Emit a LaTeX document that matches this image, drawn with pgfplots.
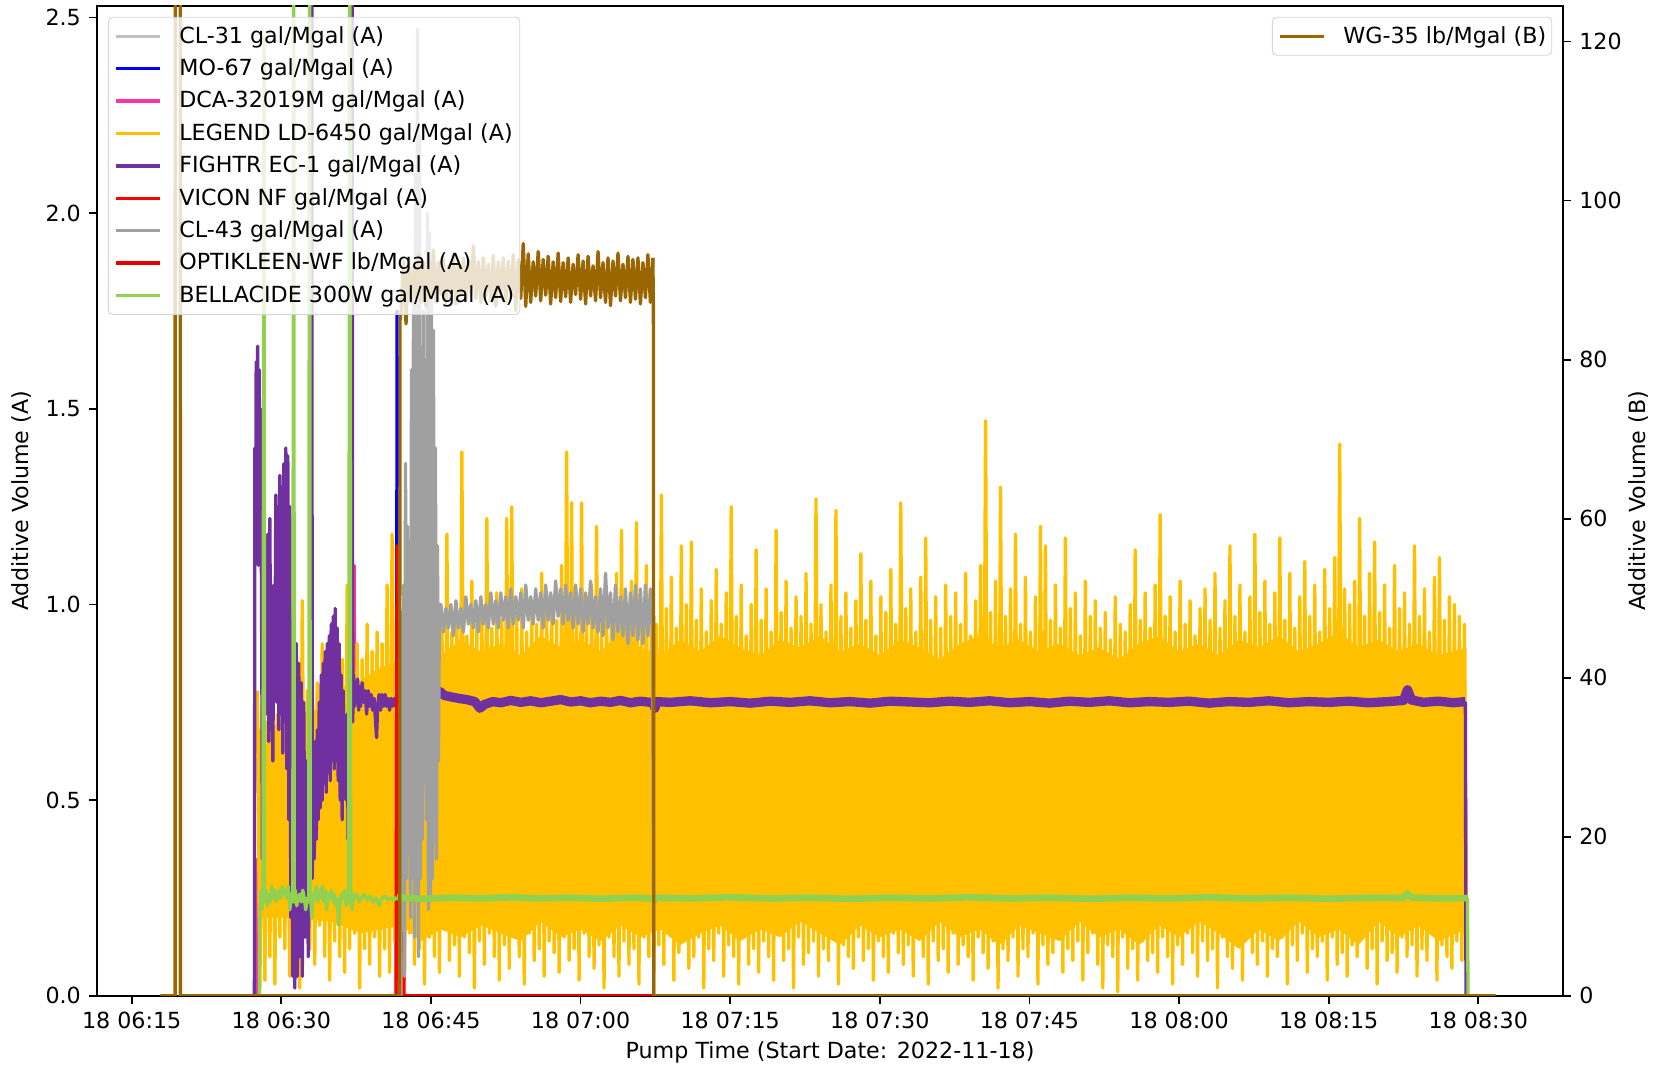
\documentclass[border=0pt]{standalone}
\usepackage{fontspec}
\setmainfont{DejaVu Sans}
\usepackage{pgfplots}
\usepackage{pgfplotstable}
\pgfplotsset{compat=1.18}
\usetikzlibrary{calc}

\definecolor{silverc}{HTML}{C0C0C0}
\definecolor{moblue}{HTML}{0000FF}
\definecolor{dcapink}{HTML}{FF3399}
\definecolor{ldyellow}{HTML}{FFC000}
\definecolor{ecpurple}{HTML}{7030A0}
\definecolor{nfred}{HTML}{FF0000}
\definecolor{clgray}{HTML}{A0A0A0}
\definecolor{owfred}{HTML}{E60000}
\definecolor{bgreen}{HTML}{92D050}
\definecolor{wgbrown}{HTML}{996600}

\pgfplotsset{
  base/.style={
    scale only axis, width=660.6pt, height=446pt,
    xmin=11.5, xmax=158.52,
    tick align=outside, major tick length=3.5pt,
    every tick/.style={black, line width=0.8pt},
    axis line style={line width=0.8pt},
    /pgf/number format/assume math mode=true,
    legend image code/.code={\draw[##1] (0pt,0pt) -- (20pt,0pt);},
    legend cell align=left,
    legend style={draw=black!17, fill=white, fill opacity=0.8, text opacity=1,
      rounded corners=2pt, inner xsep=2.5pt, inner ysep=4pt,
      row sep=5.5pt, column sep=8pt, nodes={inner sep=0pt}},
  },
  ln/.style={line width=1.5pt, line join=round},
}

% LEGEND LD-6450, one reading every 0.25 min from 27.6 min (06:27.6), high/low alternating
\pgfplotstableread[row sep=\\,header=false]{
0.78\\0.02\\0.75\\0.04\\0.70\\0.10\\0.78\\0.03\\0.72\\0.15\\0.80\\0.12\\0.74\\0.05\\0.99\\0.10\\0.76\\0.02\\1.01\\0.15\\
0.78\\0.12\\0.85\\0.08\\0.80\\0.18\\0.90\\0.10\\0.84\\0.04\\0.88\\0.14\\0.92\\0.10\\0.86\\0.06\\1.05\\0.12\\0.82\\0.16\\
0.90\\0.02\\0.86\\0.12\\0.95\\0.08\\0.88\\0.15\\0.93\\0.05\\0.90\\0.12\\1.05\\0.06\\1.18\\0.14\\0.95\\0.10\\0.92\\0.04\\
0.97\\0.16\\0.90\\0.08\\1.02\\0.12\\0.94\\0.03\\0.99\\0.15\\0.91\\0.10\\1.04\\0.06\\0.95\\0.17\\1.18\\0.09\\0.93\\0.13\\
0.98\\0.05\\1.39\\0.15\\0.92\\0.11\\1.06\\0.02\\0.95\\0.14\\1.00\\0.08\\1.22\\0.16\\0.94\\0.10\\1.03\\0.04\\0.96\\0.13\\
1.22\\0.07\\1.25\\0.15\\0.97\\0.10\\1.04\\0.03\\0.93\\0.16\\1.01\\0.09\\0.95\\0.12\\1.08\\0.05\\0.98\\0.14\\1.02\\0.11\\
0.96\\0.06\\1.10\\0.15\\1.39\\0.09\\1.26\\0.12\\0.99\\0.04\\1.26\\0.16\\0.97\\0.10\\1.05\\0.07\\1.20\\0.13\\0.95\\0.02\\
1.03\\0.15\\0.97\\0.10\\1.08\\0.05\\1.19\\0.14\\0.96\\0.08\\1.06\\0.12\\1.21\\0.03\\0.98\\0.15\\1.10\\0.10\\1.02\\0.06\\
0.95\\0.13\\1.28\\0.08\\0.99\\0.16\\1.07\\0.04\\0.94\\0.11\\1.15\\0.14\\1.00\\0.07\\1.16\\0.10\\0.96\\0.15\\1.04\\0.02\\
0.93\\0.12\\1.01\\0.09\\1.09\\0.16\\0.95\\0.05\\1.03\\0.13\\1.25\\0.10\\0.97\\0.03\\1.05\\0.15\\0.92\\0.08\\1.00\\0.12\\
1.14\\0.06\\0.96\\0.14\\1.04\\0.10\\0.93\\0.04\\1.19\\0.16\\0.98\\0.09\\1.06\\0.12\\0.94\\0.02\\1.02\\0.15\\0.97\\0.08\\
1.08\\0.11\\0.95\\0.14\\1.27\\0.05\\1.00\\0.12\\0.93\\0.09\\1.05\\0.16\\1.24\\0.03\\0.97\\0.13\\1.03\\0.10\\0.94\\0.07\\
1.01\\0.15\\1.13\\0.09\\0.96\\0.12\\1.06\\0.04\\0.92\\0.14\\1.02\\0.10\\0.98\\0.06\\1.09\\0.16\\0.95\\0.11\\1.26\\0.08\\
0.99\\0.13\\1.04\\0.05\\0.93\\0.15\\1.07\\0.10\\1.17\\0.03\\0.96\\0.14\\1.02\\0.09\\0.94\\0.12\\1.05\\0.06\\0.97\\0.16\\
1.03\\0.08\\0.95\\0.13\\1.08\\0.10\\0.92\\0.04\\1.01\\0.15\\1.10\\0.11\\1.47\\0.07\\0.98\\0.14\\1.06\\0.02\\1.30\\0.12\\
0.97\\0.09\\1.04\\0.15\\1.18\\0.05\\0.95\\0.12\\1.07\\0.10\\0.93\\0.16\\1.02\\0.03\\1.20\\0.13\\1.15\\0.08\\0.96\\0.11\\
1.05\\0.15\\0.94\\0.06\\1.17\\0.12\\0.99\\0.09\\1.03\\0.14\\0.92\\0.04\\1.06\\0.11\\0.97\\0.16\\1.01\\0.08\\0.94\\0.02\\
0.98\\0.13\\0.91\\0.10\\1.02\\0.01\\0.95\\0.15\\0.93\\0.07\\1.00\\0.12\\1.14\\0.04\\0.96\\0.14\\1.03\\0.09\\0.94\\0.11\\
1.05\\0.06\\1.23\\0.15\\0.97\\0.10\\1.02\\0.03\\0.93\\0.13\\1.06\\0.08\\0.95\\0.16\\1.01\\0.11\\0.92\\0.05\\0.99\\0.14\\
1.04\\0.09\\0.96\\0.12\\1.08\\0.02\\0.94\\0.15\\1.01\\0.10\\1.15\\0.07\\0.97\\0.13\\1.05\\0.04\\0.93\\0.16\\1.02\\0.11\\
1.18\\0.08\\0.98\\0.14\\1.06\\0.05\\0.95\\0.12\\1.03\\0.10\\1.17\\0.15\\0.96\\0.03\\1.08\\0.13\\0.94\\0.09\\1.02\\0.16\\
1.11\\0.06\\0.97\\0.12\\1.05\\0.10\\0.93\\0.14\\1.09\\0.04\\0.99\\0.15\\1.12\\0.08\\1.41\\0.11\\1.04\\0.05\\1.00\\0.13\\
1.06\\0.10\\1.22\\0.16\\0.97\\0.07\\1.08\\0.12\\1.16\\0.03\\0.98\\0.14\\1.05\\0.09\\0.94\\0.11\\1.10\\0.06\\0.99\\0.15\\
1.03\\0.10\\0.95\\0.13\\1.15\\0.05\\0.97\\0.12\\1.04\\0.09\\0.93\\0.16\\1.07\\0.04\\1.12\\0.13\\0.96\\0.10\\1.02\\0.07\\
1.00\\0.14\\0.97\\0.09\\0.95\\0.12\\
}\yellowtab

% WG-35 plateau, one reading every 0.25 min from 42.0 min (right axis units)
\pgfplotstableread[row sep=\\,header=false]{
86.0\\92.3\\84.5\\92.8\\87.2\\91.8\\87.7\\93.3\\87.2\\92.3\\86.7\\92.8\\87.7\\93.8\\87.2\\92.3\\88.2\\92.8\\87.2\\91.8\\
87.7\\93.3\\87.0\\92.3\\88.0\\92.8\\87.4\\92.6\\88.2\\94.3\\87.7\\92.3\\87.2\\92.8\\88.0\\92.0\\87.5\\93.1\\86.7\\92.3\\
88.0\\92.8\\87.2\\92.4\\87.8\\93.2\\86.2\\92.6\\87.7\\94.6\\86.7\\93.3\\87.2\\92.3\\88.0\\93.6\\87.4\\92.6\\88.1\\93.0\\
87.0\\92.3\\87.8\\93.4\\87.3\\92.2\\87.9\\92.8\\87.2\\92.0\\88.2\\93.2\\87.6\\92.4\\87.0\\93.0\\88.0\\91.8\\87.4\\93.6\\
87.8\\92.2\\87.2\\92.8\\86.8\\92.4\\88.0\\93.4\\87.4\\92.0\\87.8\\93.0\\87.2\\92.6\\87.6\\92.8\\87.0\\92.2\\87.8\\93.2\\
87.2\\92.8\\
}\browntab

\begin{document}
\begin{tikzpicture}
\begin{axis}[base, name=ax,
  ymin=0, ymax=2.53,
  xtick pos=left, ytick pos=left,
  xtick={15,30,45,60,75,90,105,120,135,150},
  xticklabels={18 06:15,18 06:30,18 06:45,18 07:00,18 07:15,18 07:30,18 07:45,18 08:00,18 08:15,18 08:30},
  ytick={0,0.5,1,1.5,2,2.5},
  yticklabel style={/pgf/number format/fixed, /pgf/number format/fixed zerofill,
    /pgf/number format/precision=1, /tikz/inner sep=0pt, /tikz/xshift=-3.5pt},
  xticklabel style={inner sep=0pt, yshift=-3.5pt},
  xlabel={Pump Time (Start Date: 2022-11-18)},
  ylabel={Additive Volume (A)},
  every axis x label/.style={at={(axis description cs:0.5,-0.0567)}, anchor=center},
  every axis y label/.style={at={(axis description cs:-0.0512,0.5)}, anchor=center, rotate=90},
]
% CL-31
\addplot[silverc, ln] coordinates {(42.3,0) (67.3,0)};
% MO-67
\addplot[moblue, ln] coordinates {(41.55,0) (41.6,1.75) (41.66,0)};
% DCA-32019M
\addplot[dcapink, ln] coordinates {(27.5,0) (27.6,0.35) (27.75,0.3) (28.5,0.4) (37.2,0.4) (37.3,1.1) (37.4,0.4) (41.5,0.4) (41.6,0)};
% LEGEND LD-6450: dense core of the readings, then the readings themselves
\addplot[ldyellow, draw=none, fill=ldyellow] coordinates {
(27.62,0.20) (27.62,0.68) (30,0.70) (33,0.72) (35,0.78) (37.5,0.80) (40,0.84)
(42,0.86) (44,0.89) (46,0.87) (48,0.91) (50,0.88) (52,0.90) (54,0.87) (56,0.92) (58,0.89) (60,0.91)
(62,0.88) (64,0.93) (66,0.89) (68,0.87) (70,0.91) (72,0.88) (74,0.92) (76,0.89) (78,0.87) (80,0.91)
(82,0.89) (84,0.92) (86,0.88) (88,0.90) (90,0.87) (92,0.91) (94,0.89) (96,0.86) (98,0.90) (100,0.92)
(102,0.89) (104,0.91) (106,0.88) (108,0.90) (110,0.87) (112,0.89) (114,0.86) (116,0.90) (118,0.92)
(120,0.88) (122,0.90) (124,0.87) (126,0.91) (128,0.89) (130,0.92) (132,0.88) (134,0.90) (136,0.93)
(138,0.89) (140,0.91) (142,0.88) (144,0.90) (146,0.87) (148.8,0.89)
(148.8,0.17) (146,0.14) (144,0.18) (142,0.15) (140,0.19) (138,0.13) (136,0.17) (134,0.15) (132,0.19)
(130,0.14) (128,0.17) (126,0.12) (124,0.16) (122,0.19) (120,0.15) (118,0.18) (116,0.13) (114,0.17)
(112,0.15) (110,0.19) (108,0.14) (106,0.16) (104,0.18) (102,0.13) (100,0.17) (98,0.15) (96,0.19)
(94,0.14) (92,0.17) (90,0.15) (88,0.18) (86,0.13) (84,0.16) (82,0.19) (80,0.15) (78,0.17) (76,0.14)
(74,0.18) (72,0.16) (70,0.13) (68,0.17) (66,0.15) (64,0.18) (62,0.14) (60,0.17) (58,0.15) (56,0.19)
(54,0.14) (52,0.16) (50,0.18) (48,0.15) (46,0.17) (44,0.14) (42,0.18) (38,0.16) (35,0.19) (30,0.20)};
\addplot[ldyellow, ln] table[x expr={27.6+0.25*\coordindex}, y index=0] {\yellowtab};
% FIGHTR EC-1, start-up
\addplot[ecpurple, ln] coordinates {
(27.30,0) (27.35,1.40) (27.42,1.12) (27.48,1.62) (27.55,1.15) (27.62,1.66) (27.70,1.10) (27.78,1.60)
(27.85,1.25) (27.92,1.50) (28.00,1.10) (28.05,0.80) (28.10,0.35) (28.20,0.95) (28.35,0.75) (28.45,1.15)
(28.55,0.72) (28.65,1.18) (28.75,0.65) (28.85,1.22) (28.95,0.70) (29.05,1.00) (29.15,0.60) (29.25,1.05)
(29.35,0.80) (29.45,1.28) (29.55,0.75) (29.65,1.25) (29.75,0.68) (29.85,1.33) (29.95,0.72) (30.05,1.30)
(30.15,0.62) (30.25,1.36) (30.35,0.70) (30.45,1.40) (30.55,0.58) (30.65,1.38) (30.75,0.45) (30.85,1.25)
(30.95,0.20) (31.05,0.95) (31.15,0.05) (31.25,0.50) (31.35,0.02) (31.50,0.90) (31.60,0.05) (31.75,0.85)
(31.85,0.10) (32.00,0.80) (32.10,0.05) (32.25,0.75) (32.40,0.15) (32.55,0.60) (32.70,0.10) (32.85,0.45)
(33.00,0.35) (33.05,3.00) (33.10,0.30) (33.20,0.55) (33.30,0.35) (33.40,0.65) (33.50,0.40) (33.60,0.68)
(33.70,0.45) (33.80,0.75) (33.90,0.48) (34.00,0.82) (34.10,0.50) (34.20,0.85) (34.30,0.55) (34.40,0.88)
(34.50,0.52) (34.60,0.90) (34.70,0.60) (34.80,0.92) (34.90,0.55) (35.00,0.95) (35.10,0.62) (35.20,0.97)
(35.30,0.58) (35.40,0.99) (35.50,0.60) (35.60,0.94) (35.70,0.55) (35.80,0.90) (35.90,0.50) (36.00,0.82)
(36.10,0.45) (36.20,0.78) (36.30,0.55) (36.40,0.70) (36.50,0.50) (36.60,0.72) (36.70,0.40) (36.90,0.60)
(37.08,3.00) (37.15,0.70) (37.25,0.82) (37.35,0.74) (37.45,0.80) (37.55,0.75) (37.65,0.81) (37.75,0.73)
(37.85,0.79) (37.95,0.74) (38.10,0.80) (38.25,0.75) (38.40,0.78) (38.55,0.72) (38.70,0.78) (38.85,0.74)
(39.00,0.77) (39.15,0.73) (39.30,0.76) (39.45,0.70) (39.55,0.66) (39.65,0.74) (39.80,0.77) (39.95,0.73)
(40.10,0.77) (40.25,0.74) (40.40,0.77) (40.55,0.74) (40.70,0.76) (40.85,0.73) (41.00,0.76) (41.15,0.74)
(41.30,0.76) (41.45,0.74) (41.60,0.755)};
% FIGHTR EC-1, steady part
\addplot[ecpurple, line width=4.2pt, line join=round] coordinates {
(41.6,0.752) (42.5,0.756) (43.3,0.748) (44.1,0.755) (44.9,0.752) (45.5,0.765) (45.9,0.778) (46.3,0.768)
(47.0,0.764) (47.8,0.760) (48.6,0.757) (49.4,0.752) (49.9,0.735) (50.4,0.745) (51.2,0.752) (52.0,0.749)
(53.0,0.755) (54.0,0.750) (55.0,0.754) (56.0,0.749) (57.0,0.753) (58.0,0.757) (59.0,0.751) (60.0,0.754)
(61.0,0.749) (62.0,0.753) (63.0,0.750) (64.0,0.755) (65.0,0.749) (66.0,0.753) (67.0,0.750) (67.3,0.748)
(67.45,0.735) (67.6,0.752) (69,0.750) (71,0.754) (73,0.749) (75,0.752) (77,0.748) (79,0.753) (81,0.750)
(83,0.754) (85,0.749) (87,0.752) (89,0.748) (91,0.753) (93,0.751) (95,0.749) (97,0.753) (99,0.750)
(101,0.754) (103,0.749) (105,0.752) (107,0.748) (109,0.753) (111,0.750) (113,0.754) (115,0.749)
(117,0.752) (119,0.750) (121,0.753) (123,0.748) (125,0.752) (127,0.750) (129,0.754) (131,0.749)
(133,0.752) (135,0.750) (137,0.753) (139,0.749) (141,0.752) (142.5,0.755) (142.9,0.782) (143.3,0.756)
(144.5,0.750) (146,0.753) (147.5,0.749) (148.7,0.752)};
\addplot[ecpurple, ln] coordinates {(148.7,0.752) (148.76,0)};
% VICON NF
\addplot[nfred, ln] coordinates {(41.5,0) (41.6,1.15) (41.7,0.98) (42.2,0.97) (42.3,0) (67.34,0)};
% CL-43
\addplot[clgray, ln] coordinates {
(41.95,0) (42.05,0.98) (42.15,0.55) (42.25,1.05) (42.35,0.05) (42.45,1.36) (42.55,0.30) (42.65,1.20)
(42.75,0.70) (42.85,0.95) (42.95,0.20) (43.05,1.60) (43.15,0.40) (43.25,1.80) (43.35,0.15) (43.45,2.10)
(43.55,0.25) (43.65,2.47) (43.75,0.10) (43.85,2.20) (43.95,0.30) (44.05,1.30) (44.15,0.40) (44.25,1.75)
(44.35,0.60) (44.45,1.50) (44.55,0.45) (44.65,2.00) (44.75,0.22) (44.85,1.95) (44.95,0.25) (45.05,1.80)
(45.15,0.30) (45.25,1.70) (45.35,0.40) (45.45,1.40) (45.55,0.35) (45.65,1.15) (45.75,0.60) (45.85,1.00)
(46.0,1.00) (46.25,0.93) (46.5,0.99) (46.75,0.94) (47.0,1.00) (47.25,0.92) (47.5,1.01) (47.75,0.94)
(48.0,0.99) (48.25,0.93) (48.5,1.02) (48.75,0.95) (49.0,1.00) (49.25,0.94) (49.5,1.01) (49.75,0.93)
(50.0,1.02) (50.25,0.95) (50.5,1.00) (50.75,0.94) (51.0,1.03) (51.25,0.95) (51.5,1.01) (51.75,0.94)
(52.0,1.03) (52.25,0.96) (52.5,1.02) (52.75,0.94) (53.0,1.04) (53.25,0.95) (53.5,1.02) (53.75,0.96)
(54.0,1.03) (54.25,0.94) (54.5,1.05) (54.75,0.96) (55.0,1.02) (55.25,0.95) (55.5,1.04) (55.75,0.96)
(56.0,1.03) (56.25,0.94) (56.5,1.05) (56.75,0.96) (57.0,1.03) (57.25,0.95) (57.5,1.06) (57.75,0.97)
(58.0,1.04) (58.25,0.95) (58.5,1.05) (58.75,0.96) (59.0,1.03) (59.25,0.94) (59.5,1.05) (59.75,0.95)
(60.0,1.04) (60.25,0.93) (60.5,1.03) (60.75,0.95) (61.0,1.06) (61.25,0.94) (61.5,1.02) (61.75,0.93)
(62.0,1.04) (62.25,0.92) (62.5,1.08) (62.75,0.94) (63.0,1.03) (63.25,0.91) (63.5,1.05) (63.75,0.93)
(64.0,1.02) (64.25,0.92) (64.5,1.04) (64.75,0.90) (65.0,1.03) (65.25,0.92) (65.5,1.05) (65.75,0.91)
(66.0,1.04) (66.25,0.90) (66.5,1.05) (66.75,0.92) (67.0,1.04) (67.2,0.95) (67.34,0)};
% OPTIKLEEN-WF
\addplot[owfred, ln] coordinates {(42.3,0) (67.34,0)};
% BELLACIDE 300W, start-up
\addplot[bgreen, ln] coordinates {
(27.80,0) (27.85,0.20) (27.95,0.27) (28.05,0.22) (28.15,0.26) (28.27,2.45) (28.32,0.24) (28.45,0.27)
(28.60,0.23) (28.75,0.26) (28.90,0.24) (29.05,0.28) (29.20,0.25) (29.35,0.27) (29.50,0.24) (29.65,0.26)
(29.80,0.27) (29.95,0.25) (30.10,0.28) (30.25,0.26) (30.40,0.27) (30.55,0.25) (30.70,0.28) (30.85,0.22)
(31.00,0.26) (31.15,0.24) (31.24,3.00) (31.30,0.24) (31.40,0.27) (31.55,0.23) (31.70,0.25) (31.85,0.26)
(32.00,0.24) (32.15,0.27) (32.30,0.25) (32.45,0.22) (32.60,0.25) (32.75,0.24) (32.83,3.00) (32.90,0.27)
(33.05,0.20) (33.20,0.26) (33.35,0.25) (33.50,0.28) (33.65,0.24) (33.80,0.27) (33.95,0.25) (34.10,0.28)
(34.25,0.24) (34.40,0.27) (34.55,0.22) (34.70,0.26) (34.85,0.25) (35.00,0.27) (35.15,0.24) (35.30,0.26)
(35.45,0.23) (35.60,0.25) (35.75,0.18) (35.90,0.24) (36.05,0.26) (36.20,0.25) (36.35,0.27) (36.50,0.23)
(36.65,0.25) (36.75,0.24) (36.87,3.00) (36.95,0.24) (37.10,0.22) (37.25,0.26) (37.40,0.25) (37.60,0.26)
(37.80,0.24) (38.00,0.25) (38.30,0.26) (38.60,0.245) (38.90,0.255) (39.20,0.24) (39.50,0.25) (39.80,0.23)
(40.10,0.25) (40.40,0.255) (40.70,0.245) (41.00,0.25) (41.30,0.245) (41.60,0.252)};
% BELLACIDE 300W, steady part
\addplot[bgreen, line width=3pt, line join=round] coordinates {
(41.6,0.252) (44,0.248) (47,0.251) (50,0.249) (53,0.252) (56,0.249) (59,0.251) (62,0.248) (65,0.251)
(67.3,0.249) (67.4,0.243) (67.6,0.251) (71,0.249) (75,0.252) (79,0.249) (83,0.251) (87,0.248) (91,0.251)
(95,0.249) (99,0.252) (103,0.249) (107,0.251) (111,0.248) (115,0.251) (119,0.249) (123,0.252) (127,0.249)
(131,0.251) (135,0.248) (139,0.251) (142.5,0.250) (142.9,0.262) (143.3,0.251) (146,0.249) (148.9,0.250)};
\addplot[bgreen, ln] coordinates {(148.9,0.25) (148.97,0)};
\end{axis}

\begin{axis}[base,
  ymin=0, ymax=124.5,
  hide x axis, ytick pos=right, yticklabel pos=right,
  ytick={0,20,40,60,80,100,120},
  yticklabel style={inner sep=0pt, xshift=3.5pt},
  ylabel={Additive Volume (B)},
  every axis y label/.style={at={(axis description cs:1.0516,0.5)}, anchor=center, rotate=90},
  legend style={at={(axis description cs:1,1)}, anchor=north east, xshift=-5pt, yshift=-5pt},
]
\addlegendimage{wgbrown, ln}
\addlegendentry{WG-35 lb/Mgal (B)}
\addplot[wgbrown, ln, forget plot] coordinates {(17.87,0) (19.35,0) (19.36,150) (19.87,150) (19.88,0) (41.85,0) (41.9,85) (42.0,86)};
\addplot[wgbrown, ln, forget plot] table[x expr={42.0+0.25*\coordindex}, y index=0] {\browntab};
\addplot[wgbrown, ln, forget plot] coordinates {(67.25,92.8) (67.3,86) (67.34,0) (151.73,0)};
\end{axis}

\begin{axis}[base, hide axis, ymin=0, ymax=1,
  legend style={at={(axis description cs:0,1)}, anchor=north west, xshift=5pt, yshift=-5pt},
]
\addlegendimage{silverc, ln}\addlegendentry{CL-31 gal/Mgal (A)}
\addlegendimage{moblue, ln}\addlegendentry{MO-67 gal/Mgal (A)}
\addlegendimage{dcapink, ln}\addlegendentry{DCA-32019M gal/Mgal (A)}
\addlegendimage{ldyellow, ln}\addlegendentry{LEGEND LD-6450 gal/Mgal (A)}
\addlegendimage{ecpurple, ln}\addlegendentry{FIGHTR EC-1 gal/Mgal (A)}
\addlegendimage{nfred, ln}\addlegendentry{VICON NF gal/Mgal (A)}
\addlegendimage{clgray, ln}\addlegendentry{CL-43 gal/Mgal (A)}
\addlegendimage{owfred, ln}\addlegendentry{OPTIKLEEN-WF lb/Mgal (A)}
\addlegendimage{bgreen, ln}\addlegendentry{BELLACIDE 300W gal/Mgal (A)}
\end{axis}

\pgfresetboundingbox
\path ($(ax.south west)+(-43.6pt,-32.1pt)$) rectangle ($(ax.north east)+(44pt,2.6pt)$);
\end{tikzpicture}
\end{document}
